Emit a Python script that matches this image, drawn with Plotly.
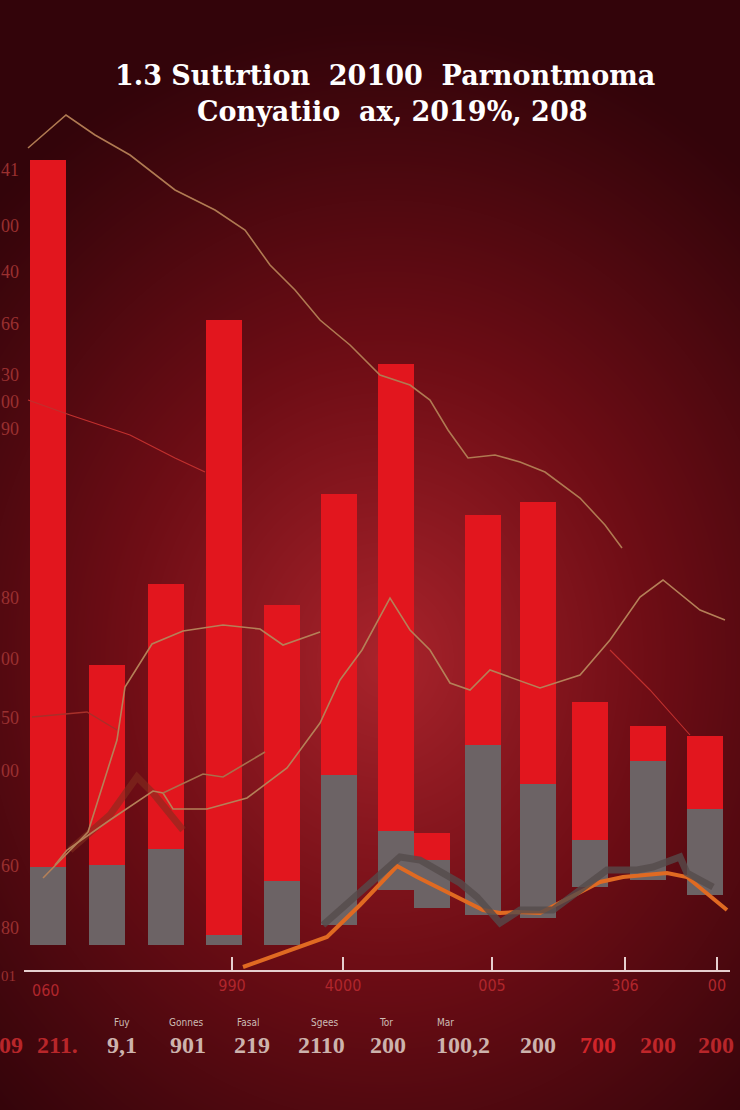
import numpy as np
import plotly.graph_objects as go

W, H = 740, 1110

# ---------------- data ----------------
bar_x = [48, 106.5, 166, 224, 281.5, 339, 396, 483, 538, 589.5, 648, 705]
red_top = [785, 280, 361, 625, 340, 451, 581, 430, 443, 243, 219, 209]
gray_top = [78, 80, 96, 10, 64, 170, 114, 200, 161, 105, 184, 136]
gray_base = [0, 0, 0, 0, 0, 20, 55, 30, 27, 58, 65, 50]

extra_x = [432]
extra_red_top = [112]
extra_gray_top = [85]
extra_base = [37]

lineA_x = [28, 66, 95, 130, 175, 215, 245, 270, 295, 320, 350, 380, 410, 430, 448, 468, 495, 520, 545, 580, 605, 622]
lineA_y = [797, 830, 810, 790, 755, 735, 715, 680, 655, 625, 600, 570, 560, 545, 515, 487, 490, 483, 473, 447, 420, 397]

redA_x = [28, 70, 130, 175, 205]
redA_y = [545, 530, 510, 487, 473]
redB_x = [610, 650, 690]
redB_y = [295, 255, 210]
redC_x = [32, 87, 117]
redC_y = [228, 233, 215]

lineB_x = [43, 88, 117, 125, 152, 183, 223, 260, 283, 320]
lineB_y = [67, 113, 205, 258, 301, 314, 320, 316, 300, 313]

lineC_x = [55, 67, 110, 153, 163, 173, 207, 247, 287, 320, 340, 362, 390, 410, 430, 450, 470, 490, 540, 580, 610, 640, 663, 700, 725]
lineC_y = [80, 95, 125, 154, 152, 136, 136, 147, 177, 222, 265, 295, 347, 315, 295, 262, 255, 275, 257, 270, 305, 348, 365, 335, 325]

lineD_x = [163, 203, 223, 265]
lineD_y = [152, 171, 168, 193]

blob_x = [70, 110, 137, 153, 183]
blob_y = [95, 130, 168, 152, 115]

orange_x = [243, 300, 327, 360, 397, 417, 450, 483, 500, 517, 540, 600, 623, 667, 687, 727]
orange_y = [-22, -2, 8, 40, 79, 68, 52, 35, 32, 33, 32, 63, 68, 72, 68, 35]

grayl_x = [323, 360, 400, 420, 460, 477, 500, 520, 553, 580, 607, 637, 653, 680, 687, 713]
grayl_y = [20, 52, 88, 85, 62, 48, 22, 35, 35, 55, 75, 75, 78, 88, 72, 58]

ytick_vals = [775, 719, 673, 621, 570, 543, 516, 347, 286, 227, 174, 79, 17]
ytick_text = ["41", "00", "40", "66", "30", "00", "90", "80", "00", "50", "00", "60", "80"]

xtick_vals = [232, 343, 492, 625, 717]
xtick_text = ["990", "4000", "005", "306", "00"]

small_labels = ["Fuy", "Gonnes", "Fasal", "Sgees", "Tor", "Mar"]
small_x = [122, 186, 248, 325, 386, 446]

big_labels = ["09", "211.", "9,1", "901", "219", "2110", "200", "100,2", "200", "700", "200", "200"]
big_x = [11, 57, 122, 188, 252, 321, 388, 463, 538, 598, 658, 716]
big_col = ["#b8262a", "#b8262a", "#cdb3ad", "#cdb3ad", "#cdb3ad", "#cdb3ad", "#cdb3ad", "#cdb3ad",
           "#cdb3ad", "#d0252a", "#c0262a", "#b8262a"]

title1 = "1.3 Suttrtion  20100  Parnontmoma"
title2 = "Conyatiio  ax, 2019%, 208"

NARROW = "DejaVu Sans Condensed, Liberation Sans Narrow, Liberation Sans"

# ---------------- background gradient ----------------
gx = np.linspace(0, W, 75)
gy = np.linspace(0, H, 112)
X, Y = np.meshgrid(gx, gy)
d = np.sqrt(((X - 385) / 560) ** 2 + ((Y - 660) / 640) ** 2)
Z = np.clip(1 - d, 0, 1) ** 1.1

fig = go.Figure()
# background on x/y (drawn first), chart on x2/y2 (drawn above)
fig.add_trace(go.Heatmap(x=gx, y=gy, z=Z, xaxis="x", yaxis="y", zsmooth="best",
                         colorscale=[[0, "#33040a"], [0.5, "#6e0d15"], [1, "#a8232b"]],
                         showscale=False, hoverinfo="skip"))

RED = "#e2161e"
GRAY = "#6c6365"
A = dict(xaxis="x2", yaxis="y2")

fig.add_trace(go.Bar(x=bar_x, y=[t - b for t, b in zip(red_top, gray_base)], base=gray_base,
                     width=36, marker=dict(color=RED, line=dict(width=0)), **A))
fig.add_trace(go.Bar(x=extra_x, y=[t - b for t, b in zip(extra_red_top, extra_base)], base=extra_base,
                     width=36, marker=dict(color=RED, line=dict(width=0)), **A))

fig.add_trace(go.Scatter(x=blob_x, y=blob_y, mode="lines", line=dict(color="rgba(130,45,30,0.6)", width=7), **A))
fig.add_trace(go.Scatter(x=lineA_x, y=lineA_y, mode="lines", line=dict(color="#b07a52", width=1.6), **A))
fig.add_trace(go.Scatter(x=redA_x, y=redA_y, mode="lines", line=dict(color="#c0302e", width=1.3), **A))
fig.add_trace(go.Scatter(x=redB_x, y=redB_y, mode="lines", line=dict(color="#c0302e", width=1.1), **A))
fig.add_trace(go.Scatter(x=redC_x, y=redC_y, mode="lines", line=dict(color="#a8302a", width=1.3), **A))

fig.add_trace(go.Bar(x=bar_x, y=[t - b for t, b in zip(gray_top, gray_base)], base=gray_base,
                     width=36, marker=dict(color=GRAY, line=dict(width=0)), **A))
fig.add_trace(go.Bar(x=extra_x, y=[t - b for t, b in zip(extra_gray_top, extra_base)], base=extra_base,
                     width=36, marker=dict(color=GRAY, line=dict(width=0)), **A))

fig.add_trace(go.Scatter(x=lineB_x, y=lineB_y, mode="lines", line=dict(color="#b58058", width=1.6), **A))
fig.add_trace(go.Scatter(x=lineC_x, y=lineC_y, mode="lines", line=dict(color="#b58058", width=1.6), **A))
fig.add_trace(go.Scatter(x=lineD_x, y=lineD_y, mode="lines", line=dict(color="#a8704c", width=1.6), **A))
fig.add_trace(go.Scatter(x=orange_x, y=orange_y, mode="lines", line=dict(color="#e06a22", width=4), **A))
fig.add_trace(go.Scatter(x=grayl_x, y=grayl_y, mode="lines", line=dict(color="rgba(85,75,75,0.8)", width=7), **A))

fig.update_layout(
    width=W, height=H, margin=dict(l=0, r=0, t=0, b=0),
    paper_bgcolor="#4a0a0e", plot_bgcolor="rgba(0,0,0,0)",
    showlegend=False, barmode="overlay", bargap=0,
    xaxis=dict(domain=[0, 1], range=[0, W], visible=False, anchor="y", fixedrange=True),
    yaxis=dict(domain=[0, 1], range=[H, 0], visible=False, anchor="x", fixedrange=True),
    xaxis2=dict(domain=[24 / W, 730 / W], range=[24, 730], showgrid=False, zeroline=False, anchor="y2",
                showline=True, linecolor="#e6cfcf", linewidth=2,
                ticks="inside", ticklen=13, tickwidth=2, tickcolor="#e6cfcf",
                tickvals=xtick_vals, ticktext=xtick_text,
                tickfont=dict(family=NARROW, size=16, color="#b0262c")),
    yaxis2=dict(domain=[(H - 970) / H, (H - 100) / H], range=[-25, 845], showgrid=False, zeroline=False,
                anchor="x2", showline=False, ticks="", tickvals=ytick_vals, ticktext=ytick_text,
                ticklabelstandoff=4,
                tickfont=dict(family="Liberation Serif", size=18, color="#9a3030")),
)


def A_(x, y, text, font, **kw):
    d = dict(x=x / W, y=1 - y / H, xref="paper", yref="paper", text=text, showarrow=False,
             xanchor="center", yanchor="middle", font=font)
    d.update(kw)
    return d


ann = []
ann.append(A_(385, 76, "<b>" + title1 + "</b>", dict(family="DejaVu Serif", size=27, color="white")))
ann.append(A_(392, 112, "<b>" + title2 + "</b>", dict(family="DejaVu Serif", size=27, color="white")))
ann.append(A_(45, 990, "060", dict(family=NARROW, size=16, color="#b0262c")))
ann.append(A_(8, 976, "01", dict(family="Liberation Serif", size=15, color="#9a3030")))
for t, xx in zip(small_labels, small_x):
    ann.append(A_(xx, 1022, t, dict(family=NARROW, size=10, color="#cdbdb6")))
for t, xx, c in zip(big_labels, big_x, big_col):
    ann.append(A_(xx, 1045, "<b>" + t + "</b>", dict(family="Liberation Serif", size=24, color=c)))
fig.update_layout(annotations=ann)

fig.write_html("out.html", config={"displayModeBar": False},
               post_script="document.body.style.margin='0';")
